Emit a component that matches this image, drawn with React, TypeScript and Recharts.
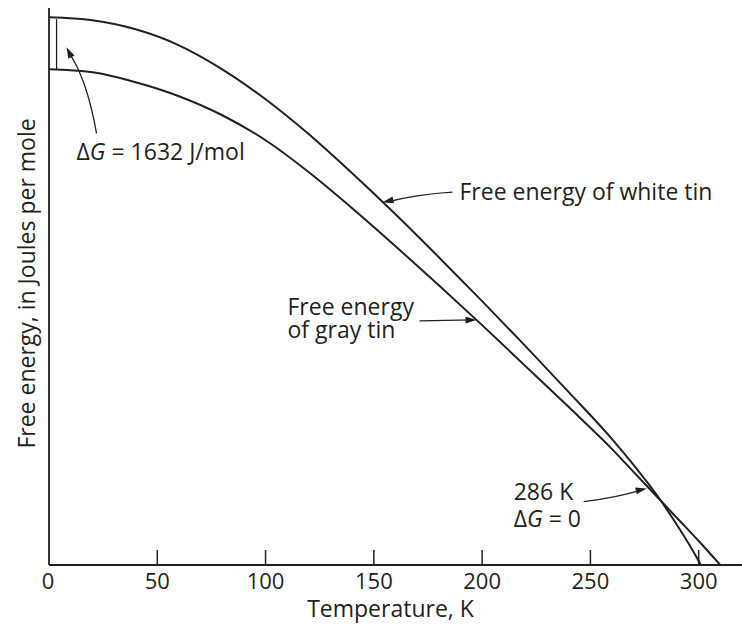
import { LineChart, Line, XAxis, YAxis, ReferenceDot, ReferenceLine, Label } from 'recharts'

const INK = '#231f20'
const FONT = '"Open Sans", "Noto Sans", sans-serif'

// free energy readings, J/mol (arbitrary zero), temperature in K
const whiteT = [0, 20, 40, 60, 80, 100, 120, 140, 160, 180, 200, 220, 240, 260, 270, 280, 290, 300, 301]
const whiteG = [17206, 17113, 16830, 16328, 15574, 14632, 13533, 12309, 11021, 9671, 8290, 6877, 5432, 3956, 3140, 2261, 1256, 126, 0]
const grayT = [0, 20, 40, 60, 80, 100, 120, 140, 160, 180, 200, 220, 240, 260, 270, 280, 290, 300, 310]
const grayG = [15574, 15480, 15166, 14727, 14130, 13345, 12340, 11210, 10017, 8792, 7536, 6249, 4961, 3642, 2920, 2198, 1476, 754, 0]
const xTicks = [0, 50, 100, 150, 200, 250, 300]

// where the annotation arrows point
const whiteNote = { t: 154, g: 11400 }
const grayNote = { t: 197.4, g: 7700 }
const crossNote = { t: 276, g: 2400 }
const dgNote = { t: 8.1, g: 16265 }
const dgMarker = { t: 3.5, top: 17150, bottom: 15574 }

const whiteData = whiteT.map((t, i) => ({ t, g: whiteG[i] }))
const grayData = grayT.map((t, i) => ({ t, g: grayG[i] }))

function Head({ x, y, fromX, fromY, size = 11 }: { x: number; y: number; fromX: number; fromY: number; size?: number }) {
  const a = Math.atan2(y - fromY, x - fromX)
  const w = 3.5
  const bx = x - size * Math.cos(a)
  const by = y - size * Math.sin(a)
  const px = -Math.sin(a) * w
  const py = Math.cos(a) * w
  return <polygon points={`${x},${y} ${bx + px},${by + py} ${bx - px},${by - py}`} fill={INK} />
}

const textStyle = { fontFamily: FONT, fontSize: 23, fill: INK }

function WhiteShape({ cx, cy }: any) {
  return (
    <g>
      <path d={`M${cx + 70},${cy - 10} Q${cx + 35},${cy - 8} ${cx + 4},${cy}`} stroke={INK} strokeWidth={1.3} fill="none" />
      <Head x={cx} y={cy} fromX={cx + 14} fromY={cy - 3} />
      <text x={cx + 77} y={cy - 2} {...textStyle}>Free energy of white tin</text>
    </g>
  )
}

function GrayShape({ cx, cy }: any) {
  return (
    <g>
      <path d={`M${cx - 57},${cy + 1} L${cx - 4},${cy}`} stroke={INK} strokeWidth={1.3} fill="none" />
      <Head x={cx} y={cy} fromX={cx - 14} fromY={cy} />
      <text x={cx - 189} y={cy - 5} {...textStyle}>Free energy</text>
      <text x={cx - 189} y={cy + 18} {...textStyle}>of gray tin</text>
    </g>
  )
}

function CrossShape({ cx, cy }: any) {
  return (
    <g>
      <path d={`M${cx - 63},${cy + 13} Q${cx - 30},${cy + 9} ${cx - 4},${cy + 1}`} stroke={INK} strokeWidth={1.3} fill="none" />
      <Head x={cx} y={cy} fromX={cx - 14} fromY={cy + 3} />
      <text x={cx - 133} y={cy + 11} {...textStyle}>286 K</text>
      <text x={cx - 133} y={cy + 38} {...textStyle}>
        Δ<tspan fontStyle="italic">G</tspan> = 0
      </text>
    </g>
  )
}

function DgShape({ cx, cy }: any) {
  return (
    <g>
      <path d={`M${cx + 30},${cy + 86} Q${cx + 20},${cy + 30} ${cx + 2},${cy + 5}`} stroke={INK} strokeWidth={1.3} fill="none" />
      <Head x={cx} y={cy} fromX={cx + 6} fromY={cy + 12} />
      <text x={cx + 10} y={cy + 113} {...textStyle}>
        Δ<tspan fontStyle="italic">G</tspan> = 1632 J/mol
      </text>
    </g>
  )
}

function Tick({ x, y, payload }: any) {
  return (
    <g>
      {payload.value !== 0 && <line x1={x} y1={y} x2={x} y2={y - 15} stroke={INK} strokeWidth={1.5} />}
      <text x={payload.value === 0 ? x - 1 : x} y={y + 24} textAnchor="middle" fontFamily={FONT} fontSize={22} fill={INK}>
        {payload.value}
      </text>
    </g>
  )
}

export default function App() {
  return (
    <div style={{ width: 742, height: 630, background: '#fff' }}>
      <style>{'body{margin:0}'}</style>
      <LineChart width={742} height={630} margin={{ top: 8, right: 0, bottom: 0, left: 0 }}>
        <XAxis
          type="number"
          dataKey="t"
          domain={[0, 320]}
          ticks={xTicks}
          interval={0}
          tickSize={0}
          tickMargin={0}
          tick={<Tick />}
          tickLine={false}
          axisLine={{ stroke: INK, strokeWidth: 1.8 }}
          height={65}
        >
          <Label
            content={({ viewBox }: any) => (
              <text x={viewBox.x + viewBox.width / 2 - 5} y={viewBox.y + 52} textAnchor="middle" {...textStyle}>
                Temperature, K
              </text>
            )}
          />
        </XAxis>
        <YAxis
          type="number"
          domain={[0, 17500]}
          tick={false}
          tickLine={false}
          axisLine={{ stroke: INK, strokeWidth: 1.8 }}
          width={49}
        >
          <Label
            content={({ viewBox }: any) => {
              const cx = viewBox.x + 26
              const cy = viewBox.y + viewBox.height / 2 - 3
              return (
                <text x={cx} y={cy} textAnchor="middle" dominantBaseline="central" transform={`rotate(-90 ${cx} ${cy})`} {...textStyle}>
                  Free energy, in Joules per mole
                </text>
              )
            }}
          />
        </YAxis>
        <Line data={whiteData} dataKey="g" type="monotone" stroke={INK} strokeWidth={2} dot={false} isAnimationActive={false} />
        <Line data={grayData} dataKey="g" type="monotone" stroke={INK} strokeWidth={2} dot={false} isAnimationActive={false} />
        <ReferenceLine
          segment={[{ x: dgMarker.t, y: dgMarker.top }, { x: dgMarker.t, y: dgMarker.bottom }]}
          stroke={INK}
          strokeWidth={1.3}
          ifOverflow="visible"
        />
        <ReferenceDot x={whiteNote.t} y={whiteNote.g} r={0} shape={<WhiteShape />} ifOverflow="visible" />
        <ReferenceDot x={grayNote.t} y={grayNote.g} r={0} shape={<GrayShape />} ifOverflow="visible" />
        <ReferenceDot x={crossNote.t} y={crossNote.g} r={0} shape={<CrossShape />} ifOverflow="visible" />
        <ReferenceDot x={dgNote.t} y={dgNote.g} r={0} shape={<DgShape />} ifOverflow="visible" />
      </LineChart>
    </div>
  )
}
